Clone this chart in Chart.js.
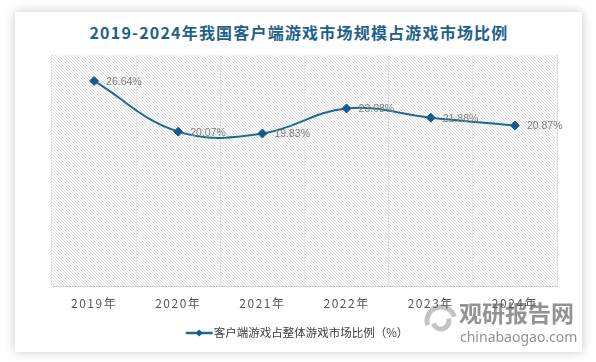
<!DOCTYPE html>
<html>
<head>
<meta charset="utf-8">
<script src="https://cdn.jsdelivr.net/npm/chart.js@4.4.0/dist/chart.umd.min.js"></script>
<style>
    body { margin: 0; background: #fff; }
    #wrap { position: relative; width: 596px; height: 362px; overflow: hidden; }
    #card { position: absolute; left: 15px; top: 12px; width: 567px; height: 340px; background: #fff; box-shadow: 0 0 10px rgba(0,0,0,0.22); }
    #title { position: absolute; left: 0; top: 22px; width: 596px; padding-left: 1px; text-align: center;
             font: bold 16px "Noto Sans CJK SC", sans-serif; color: #1d6189; letter-spacing: 1.2px; line-height: 20px; }
    #chartBox { position: absolute; left: 0; top: 0; width: 596px; height: 362px; }
</style>
</head>
<body>
<div id="wrap">
    <div id="card"></div>
    <div id="title">2019-2024年我国客户端游戏市场规模占游戏市场比例</div>
    <div id="chartBox"><canvas id="main-chart"></canvas></div>
</div>
<script>
// data
const years = ['2019年', '2020年', '2021年', '2022年', '2023年', '2024年']
const shareValues = [26.64, 20.07, 19.83, 23.08, 21.88, 20.87]
const seriesName = '客户端游戏占整体游戏市场比例（%）'
const yMin = 0
const yMax = 30

const lineColor = '#1f6b8e'
const markColor = '#1a5a8a'

// diagonal hatch for the plot area
function makeHatch() {
    let s = 3
    let c = document.createElement('canvas')
    c.width = s
    c.height = s
    let g = c.getContext('2d')
    g.fillStyle = '#fff'
    g.fillRect(0, 0, s, s)
    g.strokeStyle = '#d4d4d4'
    g.lineWidth = 0.8
    g.beginPath()
    g.moveTo(0, 0); g.lineTo(s, s)
    g.moveTo(-1, s - 1); g.lineTo(1, s + 1)
    g.moveTo(s - 1, -1); g.lineTo(s + 1, 1)
    g.stroke()
    return g.createPattern(c, 'repeat')
}

const backdrop = {
    id: 'backdrop',
    beforeDraw(chart) {
        let ctx = chart.ctx
        let a = chart.chartArea
        ctx.save()
        ctx.fillStyle = makeHatch()
        ctx.fillRect(a.left, a.top, a.right - a.left, a.bottom - a.top)

        // watermark
        ctx.strokeStyle = '#c4c4c4'
        ctx.lineWidth = 5
        ctx.beginPath()
        ctx.arc(441, 321, 14, Math.PI * 0.9, Math.PI * 1.9)
        ctx.stroke()
        ctx.beginPath()
        ctx.arc(441, 321, 8, Math.PI * -0.1, Math.PI * 0.9)
        ctx.stroke()
        ctx.fillStyle = '#939393'
        ctx.textAlign = 'left'
        ctx.textBaseline = 'middle'
        ctx.font = 'bold 23px "Noto Sans CJK SC"'
        ctx.fillText('观研报告网', 459, 313)
        ctx.font = '14px "Noto Sans"'
        ctx.fillText('chinabaogao.com', 460, 338)
        ctx.restore()

        // spaced tick labels on the x axis
        let sx = chart.scales.x
        if (sx && !sx._spaced) {
            let orig = sx.drawLabels.bind(sx)
            sx.drawLabels = function(area) {
                chart.ctx.save()
                chart.ctx.letterSpacing = '1.5px'
                orig(area)
                chart.ctx.restore()
            }
            sx._spaced = true
        }
    }
}

const valueLabels = {
    id: 'valueLabels',
    afterDatasetsDraw(chart) {
        let ctx = chart.ctx
        let meta = chart.getDatasetMeta(0)
        ctx.save()
        ctx.font = '10.5px "Liberation Sans"'
        ctx.fillStyle = '#7f7f7f'
        ctx.textAlign = 'left'
        ctx.textBaseline = 'middle'
        meta.data.forEach(function(pt, i) {
            ctx.fillText(shareValues[i].toFixed(2) + '%', pt.x + 12, pt.y + 1)
        })
        ctx.restore()
    }
}

const bottomLegend = {
    id: 'bottomLegend',
    afterDraw(chart) {
        let ctx = chart.ctx
        ctx.save()
        ctx.font = '11.5px "Noto Sans CJK SC"'
        let label = chart.data.datasets[0].label
        let w = ctx.measureText(label).width
        let total = 27 + 1 + w
        let x = 297 - total / 2
        let y = 333
        ctx.strokeStyle = lineColor
        ctx.lineWidth = 2.5
        ctx.beginPath()
        ctx.moveTo(x, y)
        ctx.lineTo(x + 27, y)
        ctx.stroke()
        ctx.fillStyle = markColor
        ctx.beginPath()
        ctx.moveTo(x + 13.5, y - 3.5)
        ctx.lineTo(x + 17, y)
        ctx.lineTo(x + 13.5, y + 3.5)
        ctx.lineTo(x + 10, y)
        ctx.closePath()
        ctx.fill()
        ctx.fillStyle = '#404040'
        ctx.textAlign = 'left'
        ctx.textBaseline = 'middle'
        ctx.fillText(label, x + 28, y)
        ctx.restore()
    }
}

let source = document.getElementById('main-chart')

new Chart(source, {
    type: 'line',
    data: {
        labels: years,
        datasets: [{
            label: seriesName,
            data: shareValues,
            borderColor: lineColor,
            borderWidth: 2,
            tension: 0.4,
            pointStyle: 'rectRot',
            pointRadius: 4.5,
            pointBackgroundColor: markColor,
            pointBorderColor: markColor,
            pointBorderWidth: 1
        }]
    },
    options: {
        responsive: true,
        maintainAspectRatio: false,
        animation: false,
        layout: {
            padding: { left: 52, right: 39, top: 55, bottom: 41 }
        },
        plugins: {
            legend: { display: false },
            title: { display: false },
            tooltip: { enabled: false }
        },
        scales: {
            x: {
                offset: true,
                grid: { offset: true, color: '#e2e2e2', drawTicks: false },
                border: { color: '#d0d0d0', width: 1 },
                ticks: {
                    padding: 10,
                    color: '#595959',
                    font: { size: 12, family: '"Noto Sans CJK SC"' }
                }
            },
            y: {
                display: false,
                min: yMin,
                max: yMax
            }
        }
    },
    plugins: [backdrop, valueLabels, bottomLegend]
})
</script>
</body>
</html>
